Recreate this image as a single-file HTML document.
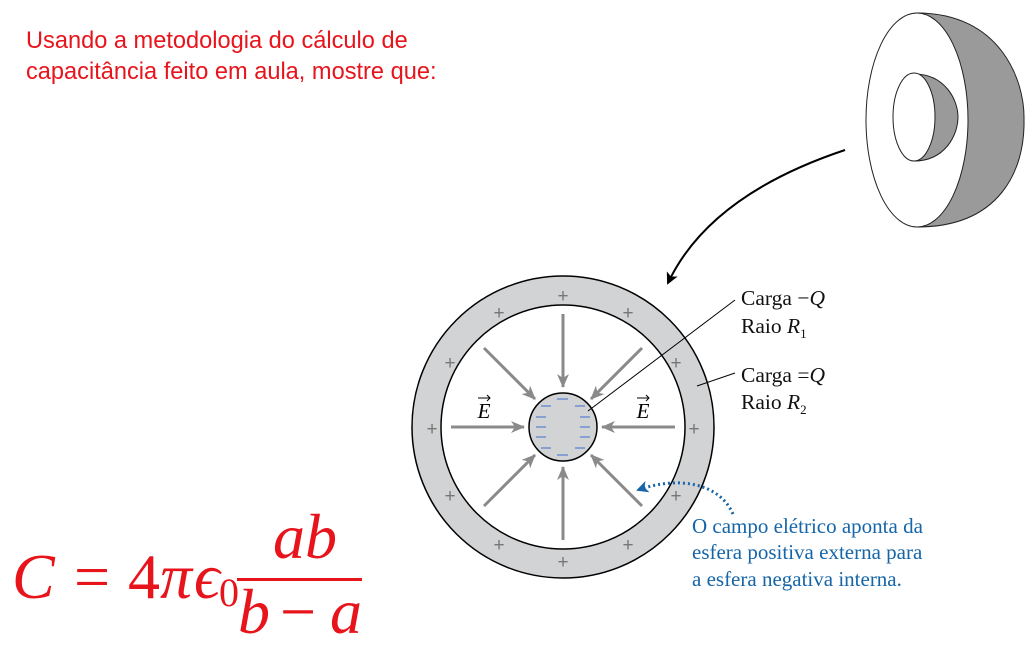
<!DOCTYPE html>
<html><head><meta charset="utf-8"><style>
html,body{margin:0;padding:0;background:#fff;}
body{width:1028px;height:646px;overflow:hidden;position:relative;}
.red{position:absolute;left:26px;top:26px;color:#e8141c;font:23.6px/31px "Liberation Sans",sans-serif;}
</style></head><body>
<div class="red">Usando a metodologia do cálculo de<br>capacitância feito em aula, mostre que:</div>
<svg width="1028" height="646" style="position:absolute;left:0;top:0" xmlns="http://www.w3.org/2000/svg">
<defs>
<marker id="ga" markerWidth="14" markerHeight="12" refX="13" refY="6" orient="auto" markerUnits="userSpaceOnUse"><path d="M0,0 L14,6 L0,12 L4,6 z" fill="#8a8a8a"/></marker>
<marker id="ba" markerWidth="12" markerHeight="12" refX="10" refY="6" orient="auto" markerUnits="userSpaceOnUse"><path d="M0,0 L12,6 L0,12 L3,6 z" fill="#000"/></marker>
<marker id="bl" markerWidth="12" markerHeight="12" refX="10" refY="6" orient="auto" markerUnits="userSpaceOnUse"><path d="M0,0 L12,6 L0,12 L3,6 z" fill="#1565a8"/></marker>
</defs>
<path d="M917,13 C1000,13 1025,80 1024,120 C1025,170 1000,227 917,227 Z" fill="#9a9a9a" stroke="#222" stroke-width="1"/>
<ellipse cx="917" cy="120" rx="51" ry="107" fill="#fff" stroke="#222" stroke-width="1"/>
<path d="M914,74 C945,74 958,100 958,117 C958,135 945,161 914,161 Z" fill="#9a9a9a" stroke="#222" stroke-width="1"/>
<ellipse cx="914" cy="117" rx="21" ry="44" fill="#fff" stroke="#222" stroke-width="1"/>
<path d="M845,150 C770,175 700,215 668,283" fill="none" stroke="#000" stroke-width="2" marker-end="url(#ba)"/>
<circle cx="563" cy="427" r="151" fill="#d2d3d5" stroke="#000" stroke-width="1.5"/>
<circle cx="563" cy="427" r="122" fill="#fff" stroke="#000" stroke-width="1.5"/>
<g fill="#777" font-family="Liberation Sans,sans-serif" font-size="19" text-anchor="middle">
<text x="563" y="302">+</text><text x="563" y="568">+</text>
<text x="432" y="435">+</text><text x="694" y="435">+</text>
<text x="499" y="319">+</text><text x="628" y="319">+</text>
<text x="499" y="551">+</text><text x="628" y="551">+</text>
<text x="450" y="369">+</text><text x="676" y="369">+</text>
<text x="450" y="502">+</text><text x="676" y="502">+</text>
</g>
<g stroke="#8a8a8a" stroke-width="3" marker-end="url(#ga)">
<line x1="451" y1="427" x2="524" y2="427"/>
<line x1="675" y1="427" x2="602" y2="427"/>
<line x1="563" y1="314" x2="563" y2="387"/>
<line x1="563" y1="540" x2="563" y2="467"/>
<line x1="484" y1="348" x2="535" y2="399"/>
<line x1="642" y1="348" x2="591" y2="399"/>
<line x1="484" y1="506" x2="535" y2="455"/>
<line x1="642" y1="506" x2="591" y2="455"/>
</g>
<circle cx="563" cy="427" r="34" fill="#d2d3d5" stroke="#000" stroke-width="1.5"/>
<g stroke="#6c8fd0" stroke-width="1.5">
<line x1="557" y1="399" x2="568" y2="399"/><line x1="557" y1="455" x2="568" y2="455"/>
<line x1="541" y1="406" x2="551" y2="406"/><line x1="575" y1="406" x2="585" y2="406"/>
<line x1="541" y1="448" x2="551" y2="448"/><line x1="575" y1="448" x2="585" y2="448"/>
<line x1="536" y1="417" x2="546" y2="417"/><line x1="580" y1="417" x2="590" y2="417"/>
<line x1="536" y1="427" x2="546" y2="427"/><line x1="580" y1="427" x2="590" y2="427"/>
<line x1="536" y1="437" x2="546" y2="437"/><line x1="580" y1="437" x2="590" y2="437"/>
</g>
<g font-family="Liberation Serif,serif" font-style="italic" font-size="21" text-anchor="middle">
<text x="484" y="418">E</text><text x="643" y="418">E</text>
</g>
<g stroke="#000" stroke-width="1" fill="none">
<path d="M478,398 L490,398 M487,395 L490,398 L487,401"/>
<path d="M637,398 L649,398 M646,395 L649,398 L646,401"/>
<line x1="588" y1="411" x2="735" y2="300"/>
<line x1="697" y1="386" x2="735" y2="373"/>
</g>
<g font-family="Liberation Serif,serif" font-size="21.5" fill="#111">
<text x="741" y="305">Carga −<tspan font-style="italic">Q</tspan></text>
<text x="741" y="333">Raio <tspan font-style="italic">R</tspan><tspan font-size="13" dy="5">1</tspan></text>
<text x="741" y="382">Carga =<tspan font-style="italic">Q</tspan></text>
<text x="741" y="409">Raio <tspan font-style="italic">R</tspan><tspan font-size="13" dy="5">2</tspan></text>
</g>
<path d="M733,514 C720,484 680,475 638,490" fill="none" stroke="#1565a8" stroke-width="3" stroke-dasharray="2,3" marker-end="url(#bl)"/>
<g font-family="Liberation Serif,serif" font-size="21" fill="#1565a8">
<text x="692" y="533">O campo elétrico aponta da</text>
<text x="692" y="559">esfera positiva externa para</text>
<text x="692" y="586">a esfera negativa interna.</text>
</g>
<g fill="#e8141c" font-family="Liberation Serif,serif" font-size="64">
<text x="12" y="598" font-style="italic">C</text>
<text x="74" y="598">=</text>
<text x="128" y="598">4</text>
<text x="160" y="598" font-style="italic">π</text>
<text x="194" y="598" font-style="italic">ϵ</text>
<text x="219" y="606" font-size="40">0</text>
<text x="273" y="558" font-style="italic">ab</text>
<text x="238" y="633" font-style="italic">b</text>
<text x="280" y="633">−</text>
<text x="330" y="633" font-style="italic">a</text>
</g>
<rect x="237" y="578" width="125" height="3" fill="#e8141c"/>
</svg>
</body></html>
